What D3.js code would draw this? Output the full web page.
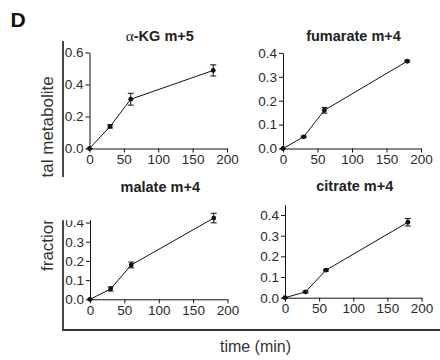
<!DOCTYPE html>
<html>
<head>
<meta charset="utf-8">
<script src="https://cdn.jsdelivr.net/npm/d3@7"></script>
<style>
  body { margin: 0; background: #fff; }
  svg { display: block; font-family: "Liberation Sans", Arial, sans-serif; }
</style>
</head>
<body>
<div id="chart"></div>
<script>
// sampling times (min)
const times = [0, 30, 60, 180];
const xTicks = [0, 50, 100, 150, 200];

const titles = ["\u03b1-KG m+5", "fumarate m+4", "malate m+4", "citrate m+4"];

// mean labelled fraction and error (SEM) per metabolite
const akgMean = [0, 0.138, 0.308, 0.488];
const akgErr = [0, 0.010, 0.037, 0.035];
const fumMean = [0, 0.049, 0.160, 0.365];
const fumErr = [0, 0.003, 0.012, 0.004];
const malMean = [0, 0.054, 0.179, 0.423];
const malErr = [0, 0.011, 0.015, 0.025];
const citMean = [0, 0.028, 0.133, 0.365];
const citErr = [0, 0.004, 0.004, 0.018];

const yTicksKG = [0, 0.2, 0.4, 0.6];
const yTicks = [0, 0.1, 0.2, 0.3, 0.4];
const yMax = [0.6, 0.4, 0.414, 0.45];

// panel boxes in pixels
const boxes = [
  { left: 89.5, right: 227, bottom: 148.5, top: 52.5 },
  { left: 283, right: 421, bottom: 148.5, top: 52.9 },
  { left: 90, right: 227.5, bottom: 299.3, top: 219.8 },
  { left: 285, right: 421.5, bottom: 297.7, top: 204.7 }
];
const titleY = [40.7, 40.7, 191.7, 190.7];

const panels = [
  { title: titles[0], mean: akgMean, err: akgErr, ticks: yTicksKG, max: yMax[0] },
  { title: titles[1], mean: fumMean, err: fumErr, ticks: yTicks, max: yMax[1] },
  { title: titles[2], mean: malMean, err: malErr, ticks: yTicks, max: yMax[2] },
  { title: titles[3], mean: citMean, err: citErr, ticks: yTicks, max: yMax[3] }
];

const svg = d3.select("#chart").append("svg")
  .attr("width", 440)
  .attr("height", 360);

// panel letter
svg.append("text")
  .attr("x", 10.5)
  .attr("y", 26.5)
  .style("font-size", "21px")
  .style("font-weight", "bold")
  .attr("fill", "#111")
  .text("D");

// shared y label
svg.append("text")
  .attr("transform", "translate(52.5,271) rotate(-90)")
  .style("font-size", "17px")
  .attr("fill", "#333")
  .text("fraction of total metabolite");

// shared frame
svg.append("path")
  .attr("d", "M63,41V330H440")
  .attr("fill", "none")
  .attr("stroke", "#333")
  .attr("stroke-width", 1.8);

svg.append("text")
  .attr("x", 255.5)
  .attr("y", 351.5)
  .attr("text-anchor", "middle")
  .style("font-size", "16px")
  .attr("fill", "#333")
  .text("time (min)");

panels.forEach((p, i) => {
  const b = boxes[i];
  const x = d3.scaleLinear().domain([0, 200]).range([b.left, b.right]);
  const y = d3.scaleLinear().domain([0, p.max]).range([b.bottom, b.top]);
  const g = svg.append("g");

  const xAxis = g.append("g")
    .attr("transform", `translate(0,${b.bottom})`)
    .call(d3.axisBottom(x).tickValues(xTicks).tickSize(4).tickSizeOuter(0).tickPadding(2));
  const yAxis = g.append("g")
    .attr("transform", `translate(${b.left},0)`)
    .call(d3.axisLeft(y).tickValues(p.ticks).tickFormat(d3.format(".1f")).tickSize(4).tickSizeOuter(0).tickPadding(2));

  [xAxis, yAxis].forEach(a => {
    a.selectAll("path, line").attr("stroke", "#111");
    a.selectAll("text").attr("fill", "#2a2a2a").style("font-size", "13.5px")
      .style("font-family", "'Liberation Sans', Arial, sans-serif");
  });

  // error bars
  const bars = g.selectAll("errorBars")
    .data(times)
    .enter()
    .append("g");
  bars.append("line")
    .attr("x1", (d) => x(d)).attr("x2", (d) => x(d))
    .attr("y1", (d, j) => y(p.mean[j] - p.err[j]))
    .attr("y2", (d, j) => y(p.mean[j] + p.err[j]))
    .attr("stroke", "#111");
  bars.append("line")
    .attr("x1", (d) => x(d) - 3).attr("x2", (d) => x(d) + 3)
    .attr("y1", (d, j) => y(p.mean[j] + p.err[j]))
    .attr("y2", (d, j) => y(p.mean[j] + p.err[j]))
    .attr("stroke", "#111");
  bars.append("line")
    .attr("x1", (d) => x(d) - 3).attr("x2", (d) => x(d) + 3)
    .attr("y1", (d, j) => y(p.mean[j] - p.err[j]))
    .attr("y2", (d, j) => y(p.mean[j] - p.err[j]))
    .attr("stroke", "#111");

  // connecting line
  g.append("path")
    .datum(times)
    .attr("d", d3.line().x((d) => x(d)).y((d, j) => y(p.mean[j])))
    .attr("fill", "none")
    .attr("stroke", "#111")
    .attr("stroke-width", 1);

  g.selectAll("points")
    .data(times)
    .enter()
    .append("circle")
      .attr("cx", (d) => x(d))
      .attr("cy", (d, j) => y(p.mean[j]))
      .attr("r", 2.4)
      .attr("fill", "#111");
});

// the malate panel sits over part of the shared label / frame
svg.append("rect")
  .attr("x", 25)
  .attr("y", 177)
  .attr("width", 63)
  .attr("height", 43.2)
  .attr("fill", "#fff");

panels.forEach((p, i) => {
  const b = boxes[i];
  const t = svg.append("text")
    .attr("x", (b.left + b.right) / 2 + 1.5)
    .attr("y", titleY[i])
    .attr("text-anchor", "middle")
    .style("font-size", "14.5px")
    .style("font-weight", "bold")
    .attr("fill", "#222");
  // greek letter is set in a plain serif face, as in the original figure
  if (p.title.startsWith("\u03b1")) {
    t.append("tspan")
      .style("font-family", "'Liberation Serif', 'DejaVu Serif', serif")
      .style("font-weight", "normal")
      .style("font-size", "15.5px")
      .text("\u03b1");
    t.append("tspan").text(p.title.slice(1));
  } else {
    t.text(p.title);
  }
});
</script>
</body>
</html>
